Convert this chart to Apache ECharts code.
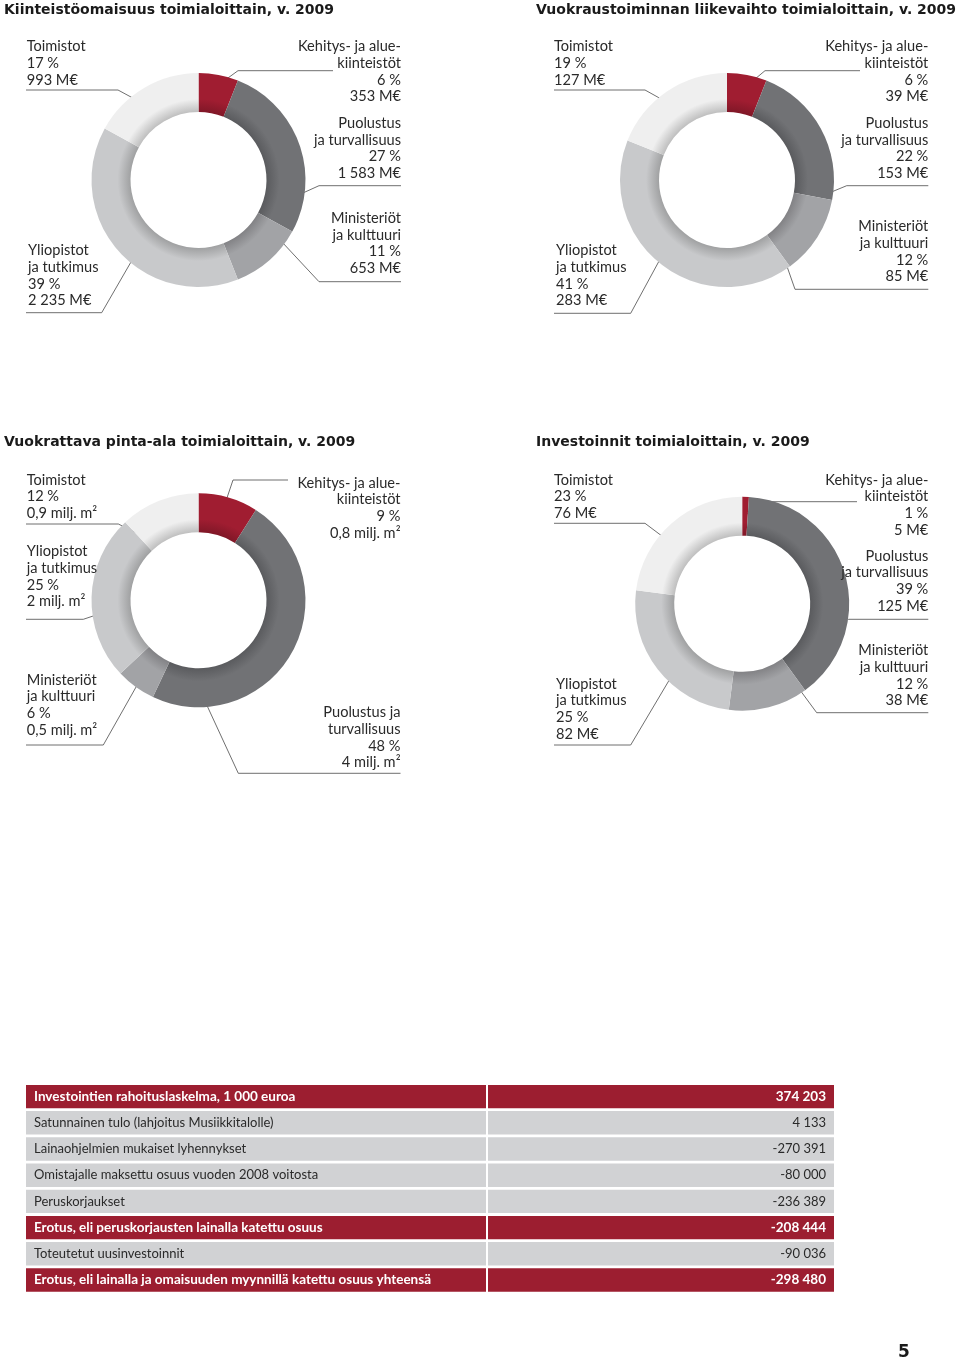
<!DOCTYPE html>
<html><head><meta charset="utf-8">
<script src="https://cdn.jsdelivr.net/npm/echarts@6/dist/echarts.min.js"></script>
<style>html,body{margin:0;padding:0;background:#fff}#c{width:960px;height:1360px}</style>
</head><body><div id="c"></div>
<script>
// ---------------- DATA ----------------
const sectors = ['Kehitys- ja alue-\nkiinteistöt', 'Puolustus\nja turvallisuus', 'Ministeriöt\nja kulttuuri', 'Yliopistot\nja tutkimus', 'Toimistot'];
const sectorsPintaAla = ['Kehitys- ja alue-\nkiinteistöt', 'Puolustus ja\nturvallisuus', 'Ministeriöt\nja kulttuuri', 'Yliopistot\nja tutkimus', 'Toimistot'];

const chartTitles = ['Kiinteistöomaisuus toimialoittain, v. 2009', 'Vuokraustoiminnan liikevaihto toimialoittain, v. 2009', 'Vuokrattava pinta-ala toimialoittain, v. 2009', 'Investoinnit toimialoittain, v. 2009'];

const kiinteistoPct = [6, 27, 11, 39, 17];
const kiinteistoMEur = [353, 1583, 653, 2235, 993];
const vuokraPct = [6, 22, 12, 41, 19];
const vuokraMEur = [39, 153, 85, 283, 127];
const pintaAlaPct = [9, 48, 6, 25, 12];
const pintaAlaMilj = [0.8, 4, 0.5, 2, 0.9];
const investPct = [1, 39, 12, 25, 23];
const investMEur = [5, 125, 38, 82, 76];

const tableRows = ['Investointien rahoituslaskelma, 1 000 euroa', 'Satunnainen tulo (lahjoitus Musiikkitalolle)', 'Lainaohjelmien mukaiset lyhennykset', 'Omistajalle maksettu osuus vuoden 2008 voitosta', 'Peruskorjaukset', 'Erotus, eli peruskorjausten lainalla katettu osuus', 'Toteutetut uusinvestoinnit', 'Erotus, eli lainalla ja omaisuuden myynnillä katettu osuus yhteensä'];
const tableValues = [374203, 4133, -270391, -80000, -236389, -208444, -90036, -298480];
const tableEmphasis = [true, false, false, false, false, true, false, true];

const pageNumber = '5';

// ---------------- FORMAT / STYLE ----------------
function spaced(v) {
  const s = Math.abs(v).toString().replace(/\B(?=(\d{3})+(?!\d))/g, ' ');
  return (v < 0 ? '-' : '') + s;
}
const meur = v => spaced(v) + ' M€';
const m2 = v => String(v).replace('.', ',') + ' milj. m²';

const FONT = 'Lato';
const TITLE_FONT = 'DejaVu Sans';
const SEG_COLORS = ['#a01d31', '#717275', '#a2a3a6', '#c8c9cb', '#efefef'];
const R0 = 68, R1 = 107, LH = 16.6;

function shade(hex, f) {
  const n = parseInt(hex.slice(1), 16);
  const r = Math.round(((n >> 16) & 255) * f), g = Math.round(((n >> 8) & 255) * f), b = Math.round((n & 255) * f);
  return 'rgb(' + r + ',' + g + ',' + b + ')';
}

const pies = [
  { names: sectors, pct: kiinteistoPct, amounts: kiinteistoMEur.map(meur), center: [198.5, 180] },
  { names: sectors, pct: vuokraPct, amounts: vuokraMEur.map(meur), center: [727, 180] },
  { names: sectorsPintaAla, pct: pintaAlaPct, amounts: pintaAlaMilj.map(m2), center: [198.5, 600.3] },
  { names: sectors, pct: investPct, amounts: investMEur.map(meur), center: [742.2, 603.7] }
];

// label placement (side, text x, first line centre, underline y, bend x, end x, anchor angle offset, anchor radius)
const LAYOUT = [
  [
    { side: 'right', x: 401, c1: 46.7, ly: 70.7, bend: 238, end: 333, da: 2, ar: 99 },
    { side: 'right', x: 401, c1: 123.3, ly: 185.7, bend: 319, end: 401, da: 28, ar: 102 },
    { side: 'right', x: 401, c1: 218.3, ly: 281.7, bend: 319, end: 401, da: -12, ar: 104 },
    { side: 'left', x: 28, c1: 250.7, ly: 312.7, bend: 101.7, end: 26, da: -8, ar: 95 },
    { side: 'left', x: 26.7, c1: 46.7, ly: 90, bend: 118, end: 26, da: -4, ar: 90 }
  ],
  [
    { side: 'right', x: 928.3, c1: 46.7, ly: 70.7, bend: 765, end: 860, da: 1, ar: 96 },
    { side: 'right', x: 928.3, c1: 123.3, ly: 185.7, bend: 846.7, end: 928.3, da: 37, ar: 100 },
    { side: 'right', x: 928.3, c1: 226.7, ly: 289.3, bend: 795, end: 928.3, da: 22, ar: 100 },
    { side: 'left', x: 556, c1: 250.7, ly: 313.3, bend: 630.7, end: 554, da: 3.5, ar: 95 },
    { side: 'left', x: 554, c1: 46.7, ly: 90, bend: 645, end: 554, da: -1.5, ar: 91 }
  ],
  [
    { side: 'right', x: 400.5, c1: 483, ly: 480, bend: 233, end: 288, da: -1.3, ar: 88 },
    { side: 'right', x: 400.5, c1: 712.7, ly: 773.3, bend: 238.3, end: 400.5, da: 56.7, ar: 105 },
    { side: 'left', x: 26.7, c1: 680, ly: 745, bend: 103.3, end: 26, da: 0, ar: 103 },
    { side: 'left', x: 26.7, c1: 551.7, ly: 619.3, bend: 83.3, end: 26, da: -8.8, ar: 93 },
    { side: 'left', x: 26.7, c1: 480, ly: 524, bend: 118.3, end: 26, da: -18, ar: 81 }
  ],
  [
    { side: 'right', x: 928.3, c1: 480, ly: 501.7, bend: 761, end: 857, da: -1.3, ar: 86 },
    { side: 'right', x: 928.3, c1: 556, ly: 619.3, bend: 848.3, end: 928.3, da: 12.5, ar: 85 },
    { side: 'right', x: 928.3, c1: 650.7, ly: 712.7, bend: 816.7, end: 928.3, da: -19.4, ar: 104 },
    { side: 'left', x: 556, c1: 684, ly: 745, bend: 630.7, end: 554, da: -8.3, ar: 104 },
    { side: 'left', x: 554, c1: 480, ly: 523.3, bend: 645, end: 554, da: -8.3, ar: 100 }
  ]
];

function pieSeries(ci) {
  const cfg = pies[ci];
  const c = cfg.center;
  return {
    type: 'pie', center: c, radius: [R0, R1], startAngle: 90, clockwise: true,
    avoidLabelOverlap: false, silent: true, animation: false, minShowLabelAngle: 0,
    data: cfg.pct.map((v, i) => ({
      value: v, name: cfg.names[i].replace('\n', ' '),
      itemStyle: {
        color: {
          type: 'radial', global: true, x: c[0], y: c[1], r: R1,
          colorStops: [
            { offset: R0 / R1, color: shade(SEG_COLORS[i], 0.8) },
            { offset: (R0 + 13) / R1, color: SEG_COLORS[i] },
            { offset: 1, color: SEG_COLORS[i] }
          ]
        }
      }
    })),
    label: {
      show: true, position: 'outside',
      formatter: p => cfg.names[p.dataIndex] + '\n' + cfg.pct[p.dataIndex] + ' %\n' + cfg.amounts[p.dataIndex],
      fontFamily: FONT, fontSize: 14.6, lineHeight: LH, color: '#2a2a2a'
    },
    labelLine: { show: true, showAbove: true, length: 10, length2: 10, smooth: false, lineStyle: { color: '#4a4a4a', width: 0.8 } },
    labelLayout: function (p) {
      const L = LAYOUT[ci][p.dataIndex];
      const p0 = (p.labelLinePoints && p.labelLinePoints[0]) || [c[0], c[1] - R1];
      const th = Math.atan2(p0[1] - c[1], p0[0] - c[0]) + L.da * Math.PI / 180;
      const a = [c[0] + L.ar * Math.cos(th), c[1] + L.ar * Math.sin(th)];
      return {
        x: L.x, y: L.c1 - LH / 2, align: L.side, verticalAlign: 'top', hideOverlap: false,
        labelLinePoints: [a, [L.bend, L.ly], [L.end, L.ly]]
      };
    }
  };
}

const titlePos = [[4, 3], [536, 3], [4, 435], [536, 435]];
const titles = chartTitles.map((t, i) => ({
  text: t, left: titlePos[i][0], top: titlePos[i][1], padding: 0,
  textStyle: { fontFamily: TITLE_FONT, fontWeight: 'bold', fontSize: 14, color: '#1a1a1a' }
}));
titles.push({ text: pageNumber, left: 898, top: 1344, padding: 0, textStyle: { fontFamily: TITLE_FONT, fontWeight: 'bold', fontSize: 17, color: '#1a1a1a' } });

const RED = '#9c1e30', GRAY = '#d1d2d4';
const tableSeries = {
  type: 'custom', xAxisIndex: 0, yAxisIndex: 0, silent: true, animation: false,
  data: tableRows.map((r, i) => [0.5, i]),
  renderItem: function (params, api) {
    const i = params.dataIndex;
    const cs = params.coordSys;
    const yc = api.coord([0.5, i])[1];
    const bh = api.size([0, 1])[1];
    const top = yc - bh / 2 + 0.4;
    const h = bh - 2.8;
    const split = 460, gap = 2;
    const emph = tableEmphasis[i];
    const fill = emph ? RED : GRAY;
    const tc = emph ? '#ffffff' : '#2a2a2a';
    const font = { fontFamily: FONT, fontSize: emph ? 13.5 : 13, fontWeight: emph ? 'bold' : 'normal' };
    return {
      type: 'group', children: [
        { type: 'rect', shape: { x: cs.x, y: top, width: split, height: h }, style: { fill: fill } },
        { type: 'rect', shape: { x: cs.x + split + gap, y: top, width: cs.width - split - gap, height: h }, style: { fill: fill } },
        { type: 'text', style: Object.assign({ x: cs.x + 8, y: top + h / 2, text: tableRows[i], fill: tc, align: 'left', verticalAlign: 'middle' }, font) },
        { type: 'text', style: Object.assign({ x: cs.x + cs.width - 8, y: top + h / 2, text: spaced(tableValues[i]), fill: tc, align: 'right', verticalAlign: 'middle' }, font) }
      ]
    };
  }
};

const chart = echarts.init(document.getElementById('c'), null, { renderer: 'canvas', width: 960, height: 1360 });
chart.setOption({
  backgroundColor: '#ffffff',
  animation: false,
  title: titles,
  grid: { left: 26, top: 1084.5, width: 808, height: 209.6 },
  xAxis: { type: 'value', min: 0, max: 1, show: false },
  yAxis: { type: 'category', data: tableRows, inverse: true, show: false },
  series: [pieSeries(0), pieSeries(1), pieSeries(2), pieSeries(3), tableSeries]
});
</script>
</body></html>
